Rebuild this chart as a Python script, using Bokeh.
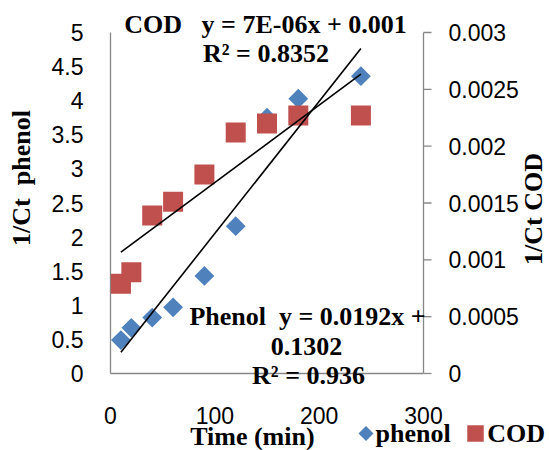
import numpy as np
from bokeh.plotting import figure
from bokeh.models import Range1d, Label
from bokeh.core.properties import value
from bokeh.embed import file_html
from bokeh.resources import INLINE

# ---- data ----
time = [10, 20, 40, 60, 90, 120, 150, 180, 240]
phenol = [0.49, 0.67, 0.82, 0.97, 1.43, 2.16, 3.75, 4.03, 4.36]
cod = [0.00079, 0.00089, 0.00139, 0.00151, 0.00175, 0.00212, 0.00220, 0.00227, 0.00227]

x_ticks = [0, 100, 200, 300]
x_tick_labels = ["0", "100", "200", "300"]
left_ticks = [0, 0.5, 1, 1.5, 2, 2.5, 3, 3.5, 4, 4.5, 5]
left_tick_labels = ["0", "0.5", "1", "1.5", "2", "2.5", "3", "3.5", "4", "4.5", "5"]
right_ticks = [0, 0.0005, 0.001, 0.0015, 0.002, 0.0025, 0.003]
right_tick_labels = ["0", "0.0005", "0.001", "0.0015", "0.002", "0.0025", "0.003"]

x_title = "Time (min)"
left_title = "1/Ct\u00a0 phenol"
right_title = "1/Ct COD"
series_names = ["phenol", "COD"]
cod_eq = ["COD\u00a0\u00a0\u00a0y = 7E-06x + 0.001", "R\u00b2 = 0.8352"]
phenol_eq = ["Phenol\u00a0\u00a0y = 0.0192x +", "0.1302", "R\u00b2 = 0.936"]

BLUE = "#4F81BD"
RED = "#C0504D"
AXIS = "#868686"
SERIF = "Liberation Serif"
SANS = "Liberation Sans"

# The frame covers the whole canvas: x 0..300 spans 313 px starting 110 px from the left,
# y 0..5 spans 341 px starting 77 px above the bottom; texts and legend around the
# plotting area are placed through the same scales so nothing is clipped.
PX_X = 313 / 300.0
PX_Y = 341 / 5.0
x_lo, x_hi = -110 / PX_X, 300 + 126 / PX_X
y_lo, y_hi = -77 / PX_Y, 5 + 32 / PX_Y
k = right_ticks[-1] / left_ticks[-1]

p = figure(width=549, height=450, x_range=Range1d(x_lo, x_hi), y_range=Range1d(y_lo, y_hi),
           output_backend="svg", toolbar_location=None,
           x_axis_location=None, y_axis_location=None,
           min_border_left=0, min_border_right=0, min_border_top=0, min_border_bottom=0)
p.title.visible = False
p.extra_y_ranges = {"cod": Range1d(y_lo * k, y_hi * k)}
p.outline_line_color = None
p.grid.visible = False
p.background_fill_color = "white"

def txt(x, y, t, size, font, align="center", bold=False, angle=0.0, **kw):
    p.text(x=x, y=y, text=t, text_align=align, text_baseline="middle", angle=angle,
           text_font=value(font), text_font_style="bold" if bold else "normal",
           text_font_size=size, text_color="black", **kw)

# ---- left axis (phenol scale) ----
xl = x_ticks[0]
p.segment(x0=xl, y0=left_ticks[0], x1=xl, y1=left_ticks[-1], line_color=AXIS, line_width=1.3)
txt([xl - 27 / PX_X] * len(left_ticks), left_ticks, left_tick_labels, "23px", SANS, align="right")
txt([xl - 89.5 / PX_X], [left_ticks[-1] / 2 + 25 / PX_Y], [left_title], "26px", SERIF,
    bold=True, angle=np.pi / 2)

# ---- bottom axis ----
p.segment(x0=x_ticks[0], y0=0, x1=x_ticks[-1], y1=0, line_color=AXIS, line_width=1.3)
txt(x_ticks, [-42 / PX_Y] * len(x_ticks), x_tick_labels, "23px", SANS)
txt([136.0], [-63 / PX_Y], [x_title], "26px", SERIF, bold=True)

# ---- right axis (COD scale) at x = 300 ----
xr = x_ticks[-1]
n = len(right_ticks)
p.segment(x0=xr, y0=right_ticks[0], x1=xr, y1=right_ticks[-1], line_color=AXIS,
          line_width=1.3, y_range_name="cod")
p.segment(x0=[xr] * n, y0=right_ticks, x1=[xr + 8 / PX_X] * n, y1=right_ticks,
          line_color=AXIS, line_width=1.3, y_range_name="cod")
txt([xr + 25 / PX_X] * n, right_ticks, right_tick_labels, "23px", SANS, align="left",
    y_range_name="cod")
txt([xr + 110 / PX_X], [left_ticks[-1] / 2 - 6 / PX_Y], [right_title], "26px", SERIF,
    bold=True, angle=np.pi / 2)

# ---- markers ----
p.scatter(time, phenol, marker="square", angle=np.pi / 4, size=14,
          fill_color=BLUE, line_color=None)
p.scatter(time, cod, marker="square", size=20, fill_color=RED,
          line_color=None, y_range_name="cod")

# ---- linear trend lines (least squares from the data) ----
t0, t1 = time[0], time[-1]
k_ph, b_ph = np.polyfit(time, phenol, 1)
k_cod, b_cod = np.polyfit(time, cod, 1)
p.line([t0, t1], [k_ph * t0 + b_ph, k_ph * t1 + b_ph], line_color="black", line_width=1.6)
p.line([t0, t1], [k_cod * t0 + b_cod, k_cod * t1 + b_cod], line_color="black",
       line_width=1.6, y_range_name="cod")

# ---- trend line equations ----
def add_label(x, y, t):
    p.add_layout(Label(x=x, y=y, text=t, text_align="center", text_baseline="middle",
                       text_font=SERIF, text_font_style="bold", text_font_size="26px",
                       text_color="black"))

add_label(148.6, 5.12, cod_eq[0])
add_label(149.0, 4.69, cod_eq[1])
add_label(188.8, 0.84, phenol_eq[0])
add_label(187.9, 0.40, phenol_eq[1])
add_label(189.8, -0.03, phenol_eq[2])

# ---- legend (below the plotting area, right) ----
ly = -60 / PX_Y
p.scatter([255.5 / PX_X], [ly], marker="square", angle=np.pi / 4, size=10.6,
          fill_color=BLUE, line_color=None)
txt([265 / PX_X], [ly], [series_names[0]], "26px", SERIF, align="left", bold=True)
p.scatter([365 / PX_X], [ly], marker="square", size=16.5, fill_color=RED, line_color=None)
txt([376.7 / PX_X], [ly], [series_names[1]], "26px", SERIF, align="left", bold=True)

open("out.html", "w").write(file_html(p, INLINE))
